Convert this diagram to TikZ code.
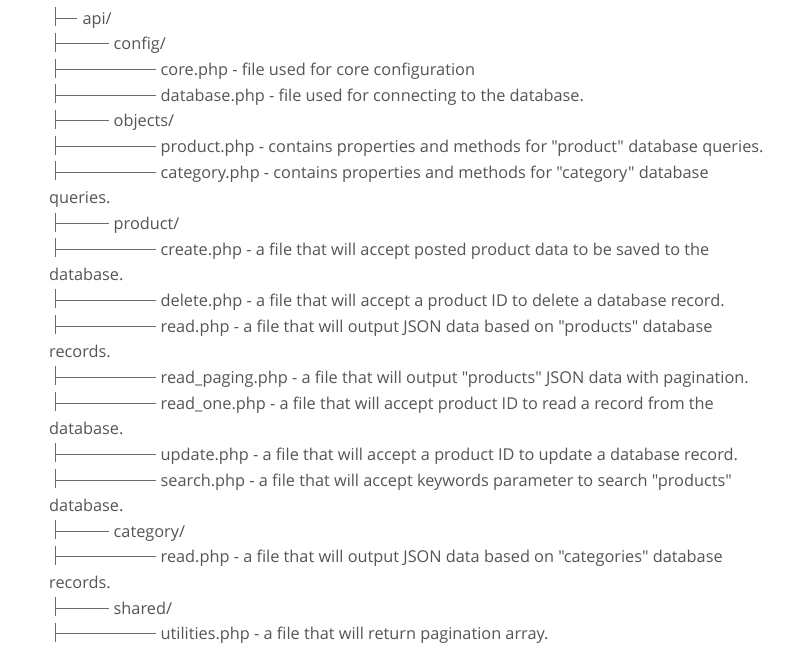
\documentclass[tikz,border=0pt]{standalone}
\usepackage{fontspec}
\setmainfont{Open Sans}[Ligatures=TeXOff]
\usetikzlibrary{calc}
\definecolor{txt}{HTML}{555555}
\definecolor{ln}{HTML}{6A6A6A}
\tikzset{
  lbl/.style={inner xsep=5pt, inner ysep=0pt, text height=14pt, text depth=2pt, text=txt, font=\fontsize{16.3}{19}\selectfont, anchor=west},
  wrap/.style={lbl, inner xsep=0pt},
  tree/.style={draw=ln, line width=1pt}
}
\newcommand\ypos[1]{{-(18.3+#1*25.65)*1pt}}
% name, row, x end of dash, text
\newcommand\trow[4]{%
  \coordinate (#1b) at (55pt,\ypos{#2});
  \coordinate (#1t) at ($(#1b)+(0,11pt)$);
  \coordinate (#1u) at ($(#1b)+(0,-8pt)$);
  \node[lbl] (#1) at (#3pt,\ypos{#2}) {#4};
  \draw[tree] (#1t) -- (#1u);
  \draw[tree] (#1b) -- (#1.west);
}
\newcommand\wrow[3]{%
  \node[wrap] (#1) at (49pt,\ypos{#2}) {#3};
}
\begin{document}
\begin{tikzpicture}
\useasboundingbox[fill=white] (0,0) rectangle (805pt,-658pt);
\trow{r0}{0}{77.3}{api/}
\trow{r1}{1}{108.5}{config/}
\trow{r2}{2}{155.5}{core.php - file used for core configuration}
\trow{r3}{3}{155.5}{database.php - file used for connecting to the database.}
\trow{r4}{4}{108.5}{objects/}
\trow{r5}{5}{155.5}{product.php - contains properties and methods for "product" database queries.}
\trow{r6}{6}{155.5}{category.php - contains properties and methods for "category" database}
\wrow{r7}{7}{queries.}
\trow{r8}{8}{108.5}{product/}
\trow{r9}{9}{155.5}{create.php - a file that will accept posted product data to be saved to the}
\wrow{r10}{10}{database.}
\trow{r11}{11}{155.5}{delete.php - a file that will accept a product ID to delete a database record.}
\trow{r12}{12}{155.5}{read.php - a file that will output JSON data based on "products" database}
\wrow{r13}{13}{records.}
\trow{r14}{14}{155.5}{read\_paging.php - a file that will output "products" JSON data with pagination.}
\trow{r15}{15}{155.5}{read\_one.php - a file that will accept product ID to read a record from the}
\wrow{r16}{16}{database.}
\trow{r17}{17}{155.5}{update.php - a file that will accept a product ID to update a database record.}
\trow{r18}{18}{155.5}{search.php - a file that will accept keywords parameter to search "products"}
\wrow{r19}{19}{database.}
\trow{r20}{20}{108.5}{category/}
\trow{r21}{21}{155.5}{read.php - a file that will output JSON data based on "categories" database}
\wrow{r22}{22}{records.}
\trow{r23}{23}{108.5}{shared/}
\trow{r24}{24}{155.5}{utilities.php - a file that will return pagination array.}
\end{tikzpicture}
\end{document}
